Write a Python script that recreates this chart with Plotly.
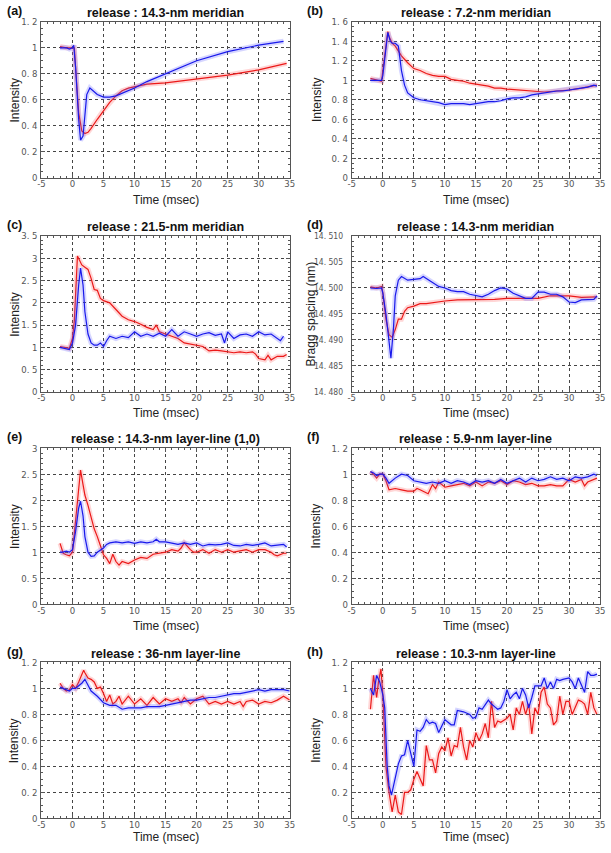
import plotly.graph_objects as go

# ---------------- data ----------------
A_RED_T = [-2, -1, 0, 0.3, 0.5, 1, 1.5, 2, 2.5, 3, 4, 5, 6, 7, 8, 9, 10, 12, 15, 20, 25, 30, 34.5]
A_RED = [1.01, 1.0, 1.0, 1.0, 0.85, 0.5, 0.36, 0.34, 0.35, 0.38, 0.45, 0.52, 0.58, 0.63, 0.67, 0.69, 0.70, 0.72, 0.73, 0.76, 0.79, 0.83, 0.88]
A_BLUE_T = [-2, -1, -0.5, 0, 0.2, 0.5, 1, 1.3, 1.7, 2, 2.3, 2.8, 3.3, 4, 5, 6, 7, 8, 10, 12, 15, 20, 25, 30, 34]
A_BLUE = [1.0, 1.0, 0.99, 1.0, 1.02, 0.85, 0.45, 0.29, 0.32, 0.5, 0.64, 0.69, 0.67, 0.64, 0.62, 0.62, 0.63, 0.65, 0.69, 0.74, 0.80, 0.90, 0.97, 1.02, 1.05]

B_RED_T = [-2, -1, -0.2, 0, 0.5, 0.8, 1, 1.5, 2, 2.5, 3, 4, 5, 6, 7, 8, 9, 10, 11, 12, 13, 14, 15, 16, 17, 18, 19, 20, 22, 24, 26, 28, 30, 32, 33, 34.5]
B_RED = [1.02, 1.0, 0.99, 1.1, 1.35, 1.50, 1.45, 1.38, 1.35, 1.30, 1.25, 1.18, 1.12, 1.10, 1.07, 1.05, 1.04, 1.04, 1.01, 1.0, 0.99, 0.97, 0.96, 0.95, 0.94, 0.92, 0.92, 0.91, 0.90, 0.89, 0.88, 0.89, 0.90, 0.92, 0.93, 0.95]
B_BLUE_T = [-2, -1, -0.2, 0, 0.5, 0.8, 1.2, 1.5, 2, 2.5, 3, 3.5, 4, 5, 6, 7, 8, 9, 10, 11, 12, 13, 14, 15, 16, 17, 18, 19, 20, 21, 22, 23, 24, 25, 26, 27, 28, 29, 30, 31, 32, 33, 34, 34.5]
B_BLUE = [1.0, 1.0, 1.0, 1.05, 1.35, 1.49, 1.40, 1.38, 1.38, 1.35, 1.10, 0.95, 0.87, 0.82, 0.80, 0.79, 0.78, 0.77, 0.75, 0.76, 0.76, 0.76, 0.75, 0.76, 0.77, 0.78, 0.78, 0.79, 0.81, 0.82, 0.82, 0.83, 0.85, 0.86, 0.87, 0.88, 0.89, 0.89, 0.90, 0.91, 0.92, 0.93, 0.95, 0.94]

C_RED_T = [-2, -1, -0.5, 0, 0.3, 0.8, 1.2, 1.5, 2, 2.5, 3, 3.5, 4, 4.5, 5, 6, 7, 8, 9, 10, 11, 12, 13, 13.5, 14, 15, 16, 17, 18, 19, 20, 21, 22, 23, 24, 25, 26, 27, 28, 29, 29.5, 30, 31, 31.5, 32, 33, 34, 34.5]
C_RED = [1.02, 1.0, 0.98, 1.2, 1.6, 3.05, 2.95, 2.85, 2.8, 2.75, 2.55, 2.3, 2.28, 2.1, 2.05, 2.0, 1.85, 1.7, 1.62, 1.58, 1.52, 1.45, 1.4, 1.5, 1.35, 1.3, 1.25, 1.2, 1.1, 1.07, 1.05, 1.02, 0.92, 0.94, 0.92, 0.9, 0.88, 0.9, 0.88, 0.9, 0.85, 0.75, 0.72, 0.82, 0.72, 0.8, 0.8, 0.84]
C_BLUE_T = [-2, -1, -0.5, 0, 0.5, 1, 1.3, 1.7, 2, 2.5, 3, 3.5, 4, 4.5, 5, 5.5, 6, 7, 8, 9, 10, 11, 12, 13, 14, 15, 16, 17, 18, 19, 20, 21, 22, 23, 24, 24.5, 25, 26, 27, 28, 29, 30, 31, 32, 33, 33.5, 34]
C_BLUE = [1.0, 0.97, 0.95, 1.1, 1.5, 2.4, 2.78, 2.4, 1.8, 1.3, 1.1, 1.05, 1.05, 1.1, 1.02, 1.15, 1.25, 1.2, 1.25, 1.22, 1.35, 1.25, 1.3, 1.25, 1.32, 1.25, 1.4, 1.25, 1.35, 1.3, 1.25, 1.3, 1.33, 1.27, 1.3, 1.1, 1.35, 1.2, 1.28, 1.3, 1.25, 1.35, 1.28, 1.3, 1.2, 1.15, 1.25]

D_RED_T = [-2, -1, -0.2, 0, 0.5, 1, 1.5, 2, 2.5, 3, 3.5, 4, 5, 6, 7, 8, 10, 12, 15, 18, 20, 23, 25, 27, 30, 32, 34.5]
D_RED = [14.5002, 14.5000, 14.5003, 14.4990, 14.4940, 14.4910, 14.4905, 14.4920, 14.4940, 14.4940, 14.4955, 14.4962, 14.4965, 14.4970, 14.4970, 14.4972, 14.4975, 14.4977, 14.4977, 14.4978, 14.4980, 14.4980, 14.4980, 14.4985, 14.4985, 14.4982, 14.4983]
D_BLUE_T = [-2, -1, -0.2, 0, 0.5, 1, 1.3, 1.7, 2, 2.5, 3, 4, 5, 6, 6.5, 7, 8, 9, 10, 11, 12, 13, 14, 15, 16, 17, 18, 19, 20, 21, 22, 23, 24, 25, 26, 27, 28, 29, 30, 31, 32, 33, 34, 34.5]
D_BLUE = [14.5000, 14.4999, 14.5000, 14.4990, 14.4950, 14.4900, 14.4865, 14.4920, 14.4985, 14.5015, 14.5022, 14.5015, 14.5017, 14.5018, 14.5022, 14.5018, 14.5010, 14.5003, 14.5000, 14.4995, 14.4993, 14.4993, 14.4988, 14.4985, 14.4983, 14.4988, 14.4995, 14.5000, 14.4998, 14.4990, 14.4985, 14.4980, 14.4980, 14.4992, 14.4992, 14.4988, 14.4988, 14.4983, 14.4973, 14.4972, 14.4977, 14.4977, 14.4978, 14.4985]

E_RED_T = [-2, -1.5, -1, -0.5, 0, 0.5, 1, 1.3, 1.7, 2, 2.5, 3, 3.5, 4, 4.5, 5, 5.5, 6, 6.5, 7, 7.5, 8, 9, 10, 11, 12, 13, 14, 15, 16, 17, 17.5, 18, 19, 19.5, 20, 21, 22, 23, 24, 25, 26, 27, 28, 29, 30, 31, 32, 32.5, 33, 34, 34.5]
E_RED = [1.17, 0.98, 0.95, 0.93, 1.0, 1.6, 2.2, 2.58, 2.3, 2.1, 1.9, 1.65, 1.45, 1.3, 1.1, 0.95, 0.88, 0.78, 0.96, 0.82, 0.75, 0.82, 0.78, 0.85, 0.9, 0.88, 0.96, 0.98, 1.0, 1.05, 1.02, 1.08, 1.18, 1.05, 1.0, 1.0, 1.05, 0.98, 1.05, 1.0, 1.05, 1.0, 1.02, 1.05, 1.0, 1.05, 1.05, 1.0, 0.95, 0.93, 0.98, 0.98]
E_BLUE_T = [-2, -1.5, -1, -0.5, 0, 0.5, 1, 1.3, 1.7, 2, 2.5, 3, 3.5, 4, 5, 5.5, 6, 7, 8, 9, 10, 11, 12, 13, 13.5, 14, 15, 16, 17, 18, 19, 20, 21, 22, 23, 24, 25, 26, 27, 28, 29, 30, 31, 32, 33, 34, 34.5]
E_BLUE = [1.0, 1.0, 1.02, 1.0, 1.05, 1.4, 1.85, 1.98, 1.7, 1.3, 1.0, 0.92, 0.93, 1.0, 1.08, 1.15, 1.18, 1.2, 1.18, 1.2, 1.17, 1.2, 1.18, 1.2, 1.25, 1.2, 1.2, 1.18, 1.15, 1.18, 1.15, 1.18, 1.12, 1.15, 1.14, 1.15, 1.18, 1.13, 1.12, 1.15, 1.13, 1.15, 1.18, 1.12, 1.13, 1.15, 1.1]

F_RED_T = [-2, -1.5, -1, -0.5, 0, 0.5, 1, 2, 3, 4, 5, 5.5, 6, 7, 7.3, 8, 8.5, 9, 10, 11, 12, 13, 14, 15, 16, 17, 18, 19, 20, 21, 22, 23, 24, 25, 26, 27, 28, 29, 30, 31, 32, 32.5, 33, 34, 34.5]
F_RED = [1.02, 1.0, 0.97, 1.0, 1.0, 0.95, 0.88, 0.89, 0.88, 0.87, 0.87, 0.89, 0.88, 0.86, 0.85, 0.92, 0.89, 0.94, 0.9, 0.91, 0.92, 0.93, 0.91, 0.94, 0.91, 0.94, 0.93, 0.95, 0.92, 0.95, 0.94, 0.92, 0.93, 0.91, 0.91, 0.92, 0.91, 0.91, 0.96, 0.94, 0.96, 0.91, 0.94, 0.96, 0.97]
F_BLUE_T = [-2, -1.5, -1, -0.5, 0, 0.5, 1, 2, 3, 4, 5, 6, 7, 8, 9, 10, 11, 12, 13, 14, 15, 16, 17, 18, 19, 20, 21, 22, 23, 24, 25, 26, 27, 28, 29, 30, 31, 32, 33, 34, 34.5]
F_BLUE = [1.02, 1.01, 0.99, 1.0, 1.0, 0.97, 0.93, 0.97, 1.0, 0.99, 0.95, 0.94, 0.93, 0.94, 0.93, 0.95, 0.93, 0.95, 0.94, 0.92, 0.95, 0.94, 0.95, 0.93, 0.96, 0.93, 0.95, 0.97, 0.94, 0.97, 0.95, 0.96, 0.98, 0.96, 0.97, 0.95, 0.98, 0.97, 0.98, 1.0, 0.99]

G_RED_T = [-2, -1.5, -1, -0.5, 0, 0.5, 1, 1.5, 1.8, 2, 2.5, 3, 3.5, 4, 4.5, 5, 5.5, 6, 6.5, 7, 7.5, 8, 9, 10, 11, 12, 13, 14, 15, 16, 17, 17.5, 18, 19, 20, 21, 22, 23, 24, 25, 26, 27, 27.5, 28, 29, 30, 31, 32, 33, 34, 35]
G_RED = [1.04, 1.0, 0.98, 0.99, 1.03, 1.0, 1.05, 1.1, 1.14, 1.12, 1.08, 1.07, 1.05, 1.0, 1.01, 0.96, 0.9, 0.95, 0.88, 0.9, 0.94, 0.88, 0.94, 0.88, 0.92, 0.87, 0.93, 0.88, 0.92, 0.9, 0.92, 0.89, 0.93, 0.88, 0.92, 0.94, 0.88, 0.9, 0.88, 0.9, 0.88, 0.9, 0.86, 0.9, 0.91, 0.88, 0.9, 0.89, 0.91, 0.94, 0.91]
G_BLUE_T = [-2, -1.5, -1, -0.5, 0, 0.5, 1, 1.5, 2, 2.5, 3, 4, 5, 6, 7, 8, 9, 10, 11, 12, 13, 14, 15, 16, 17, 18, 19, 20, 21, 22, 23, 24, 25, 26, 27, 28, 29, 30, 31, 32, 33, 34, 35]
G_BLUE = [1.01, 1.0, 0.99, 0.98, 1.0, 1.0, 1.02, 1.04, 1.07, 1.02, 0.98, 0.94, 0.89, 0.87, 0.87, 0.84, 0.85, 0.85, 0.85, 0.86, 0.86, 0.86, 0.87, 0.88, 0.89, 0.9, 0.91, 0.91, 0.92, 0.93, 0.93, 0.94, 0.95, 0.96, 0.96, 0.97, 0.98, 0.99, 0.98, 0.99, 0.99, 0.99, 0.98]

H_RED_T = [-2, -1.5, -1, -0.7, -0.3, 0, 0.5, 1, 1.5, 2, 2.5, 3, 3.5, 4, 4.5, 5, 5.5, 6, 6.5, 7, 7.5, 8, 8.5, 9, 9.5, 10, 10.5, 11, 11.5, 12, 12.5, 13, 13.5, 14, 14.5, 15, 15.5, 16, 16.5, 17, 17.5, 18, 18.5, 19, 20, 20.5, 21, 21.5, 22, 22.5, 23, 23.5, 24, 24.5, 25, 25.5, 26, 26.5, 27, 27.5, 28, 28.5, 29, 29.5, 30, 30.5, 31, 31.5, 32, 32.5, 33, 33.5, 34, 34.5]
H_RED = [0.84, 1.1, 0.93, 1.05, 1.15, 0.95, 0.4, 0.2, 0.05, 0.18, 0.05, 0.03, 0.2, 0.2, 0.22, 0.3, 0.36, 0.3, 0.25, 0.56, 0.45, 0.45, 0.35, 0.5, 0.55, 0.52, 0.62, 0.48, 0.56, 0.55, 0.7, 0.55, 0.45, 0.6, 0.55, 0.66, 0.6, 0.65, 0.73, 0.62, 0.9, 0.7, 0.75, 0.74, 0.77, 0.8, 0.68, 0.85, 0.8, 0.9, 0.8, 0.88, 0.65, 0.85, 0.8, 0.97, 1.01, 0.88, 0.85, 0.72, 0.75, 0.94, 0.8, 0.9, 0.9, 0.8, 0.85, 0.91, 0.9, 0.88, 0.8, 0.97, 0.85, 0.8]
H_BLUE_T = [-2, -1.5, -1, -0.5, 0, 0.3, 0.7, 1, 1.4, 2, 2.5, 3, 3.5, 4, 4.5, 5, 5.5, 6, 6.5, 7, 7.5, 8, 8.5, 9, 9.5, 10, 10.5, 11, 11.5, 12, 13, 14, 14.5, 15, 15.5, 16, 17, 17.5, 18, 18.5, 19, 19.5, 20, 20.5, 21, 21.5, 22, 22.5, 23, 23.5, 24, 24.5, 25, 25.5, 26, 26.5, 27, 27.5, 28, 28.5, 29, 30, 30.5, 31, 31.5, 32, 32.5, 33, 33.5, 34, 34.5]
H_BLUE = [1.0, 0.95, 1.1, 1.05, 0.95, 0.85, 0.4, 0.25, 0.18, 0.3, 0.42, 0.48, 0.49, 0.6, 0.5, 0.4, 0.68, 0.67, 0.7, 0.76, 0.73, 0.74, 0.73, 0.66, 0.71, 0.76, 0.74, 0.72, 0.72, 0.83, 0.82, 0.8, 0.77, 0.78, 0.85, 0.84, 0.91, 0.88, 0.86, 0.84, 0.85, 0.9, 0.99, 0.92, 0.95, 0.97, 0.92, 1.0, 0.95, 0.85, 0.93, 1.02, 1.02, 1.02, 1.08, 1.0, 1.05, 1.0, 1.07, 1.06, 1.07, 1.08, 1.05, 1.0, 1.08, 1.03, 0.97, 1.13, 1.1, 1.1, 1.11]

X_TICKS = [-5, 0, 5, 10, 15, 20, 25, 30, 35]
Y12_TICKS = [0, 0.2, 0.4, 0.6, 0.8, 1.0, 1.2]
Y12_TEXT = ["0", "0. 2", "0. 4", "0. 6", "0. 8", "1", "1. 2"]
Y16_TICKS = [0, 0.2, 0.4, 0.6, 0.8, 1.0, 1.2, 1.4, 1.6]
Y16_TEXT = ["0", "0. 2", "0. 4", "0. 6", "0. 8", "1", "1. 2", "1. 4", "1. 6"]
Y35_TICKS = [0, 0.5, 1, 1.5, 2, 2.5, 3, 3.5]
Y35_TEXT = ["0", "0. 5", "1", "1. 5", "2", "2. 5", "3", "3. 5"]
Y30_TICKS = [0, 0.5, 1, 1.5, 2, 2.5, 3]
Y30_TEXT = ["0", "0. 5", "1", "1. 5", "2", "2. 5", "3"]
YD_TICKS = [14.480, 14.485, 14.490, 14.495, 14.500, 14.505, 14.510]
YD_TEXT = ["14. 480", "14. 485", "14. 490", "14. 495", "14. 500", "14. 505", "14. 510"]

TITLES = ["release : 14.3-nm meridian", "release : 7.2-nm meridian",
          "release : 21.5-nm meridian", "release : 14.3-nm meridian",
          "release : 14.3-nm layer-line (1,0)", "release : 5.9-nm layer-line",
          "release : 36-nm layer-line", "release : 10.3-nm layer-line"]
LABELS = ["(a)", "(b)", "(c)", "(d)", "(e)", "(f)", "(g)", "(h)"]
YTITLES = ["Intensity", "Intensity", "Intensity", "Bragg spacing (nm)",
           "Intensity", "Intensity", "Intensity", "Intensity"]

panels = [
    (A_RED_T, A_RED, A_BLUE_T, A_BLUE, [0, 1.2], Y12_TICKS, Y12_TEXT, 0.05),
    (B_RED_T, B_RED, B_BLUE_T, B_BLUE, [0, 1.6], Y16_TICKS, Y16_TEXT, 0.05),
    (C_RED_T, C_RED, C_BLUE_T, C_BLUE, [0, 3.5], Y35_TICKS, Y35_TEXT, 0.1),
    (D_RED_T, D_RED, D_BLUE_T, D_BLUE, [14.480, 14.510], YD_TICKS, YD_TEXT, 0.001),
    (E_RED_T, E_RED, E_BLUE_T, E_BLUE, [0, 3], Y30_TICKS, Y30_TEXT, 0.1),
    (F_RED_T, F_RED, F_BLUE_T, F_BLUE, [0, 1.2], Y12_TICKS, Y12_TEXT, 0.05),
    (G_RED_T, G_RED, G_BLUE_T, G_BLUE, [0, 1.2], Y12_TICKS, Y12_TEXT, 0.05),
    (H_RED_T, H_RED, H_BLUE_T, H_BLUE, [0, 1.2], Y12_TICKS, Y12_TEXT, 0.05),
]

W, H = 611, 853
# plot-area pixel boxes (left, right, top, bottom)
cols = [(38, 290), (353, 605)]
rows = [(16, 174), (233, 391), (448, 606), (665, 823)]
xtitle_off = [23, 21, 22, 18.5]
ytitle_x = [11, 12, 11, 7, 11, 12, 11, 12]

fig = go.Figure()
FONT = "Liberation Sans, Arial, sans-serif"
TICKFONT = "Liberation Sans Narrow, Arial Narrow, DejaVu Sans Condensed, Liberation Sans, Arial, sans-serif"
RED = "rgb(235,25,25)"
BLUE = "rgb(25,25,235)"
annotations = []

for i, (rt, rv, bt, bv, yr, yt, ytt, ymin) in enumerate(panels):
    r, c = divmod(i, 2)
    l, rr = cols[c]
    t, b = rows[r]
    xa = "x" if i == 0 else f"x{i+1}"
    ya = "y" if i == 0 else f"y{i+1}"
    for tt, vv, halo, col in [(rt, rv, "rgba(255,90,90,0.25)", RED),
                              (bt, bv, "rgba(90,90,255,0.25)", BLUE)]:
        fig.add_trace(go.Scatter(x=tt, y=vv, mode="lines", xaxis=xa, yaxis=ya,
                                 line=dict(color=halo, width=5), hoverinfo="skip",
                                 showlegend=False))
        fig.add_trace(go.Scatter(x=tt, y=vv, mode="lines", xaxis=xa, yaxis=ya,
                                 line=dict(color=col, width=1.2), showlegend=False))
    axcommon = dict(showline=True, mirror="allticks", linecolor="#555", linewidth=1,
                    ticks="inside", ticklen=4, tickcolor="#555",
                    showgrid=True, gridcolor="#444", griddash="dot", gridwidth=1,
                    zeroline=False)
    xkey = "xaxis" if i == 0 else f"xaxis{i+1}"
    ykey = "yaxis" if i == 0 else f"yaxis{i+1}"
    fig.update_layout(**{
        xkey: dict(domain=[l / W, rr / W], anchor=ya, range=[-5, 35],
                   tickvals=X_TICKS, ticktext=[str(v) for v in X_TICKS],
                   ticklabelstandoff=-3,
                   tickfont=dict(family=TICKFONT, size=9.5, color="#555"),
                   minor=dict(dtick=1, ticks="inside", ticklen=2, tickcolor="#555", showgrid=False),
                   **axcommon),
        ykey: dict(domain=[1 - b / H, 1 - t / H], anchor=xa, range=yr,
                   tickvals=yt, ticktext=ytt,
                   ticklabelstandoff=(6 if i == 3 else 1),
                   tickfont=dict(family=TICKFONT, size=(8.5 if i == 3 else 9.5), color="#555"),
                   minor=dict(dtick=ymin, ticks="inside", ticklen=2, tickcolor="#555", showgrid=False),
                   **axcommon),
    })
    cx = (l + rr) / 2
    annotations.append(dict(x=cx / W, y=1 - (t - 9) / H, xref="paper", yref="paper",
                            text=f"<b>{TITLES[i]}</b>", showarrow=False,
                            font=dict(family=FONT, size=12.5, color="#111"),
                            xanchor="center", yanchor="middle"))
    annotations.append(dict(x=(c * 305 + 1) / W, y=1 - (t - 11) / H, xref="paper", yref="paper",
                            text=f"<b>{LABELS[i]}</b>", showarrow=False,
                            font=dict(family=FONT, size=12.5, color="#111"),
                            xanchor="left", yanchor="middle"))
    annotations.append(dict(x=cx / W, y=1 - (b + xtitle_off[r]) / H, xref="paper", yref="paper",
                            text="Time (msec)", showarrow=False,
                            font=dict(family=FONT, size=12, color="#222"),
                            xanchor="center", yanchor="middle"))
    annotations.append(dict(x=(c * 305 + ytitle_x[i]) / W, y=1 - ((t + b) / 2) / H, xref="paper", yref="paper",
                            text=YTITLES[i], showarrow=False, textangle=-90,
                            font=dict(family=FONT, size=12, color="#222"),
                            xanchor="center", yanchor="middle"))

fig.update_layout(width=W, height=H, margin=dict(l=0, r=0, t=0, b=0),
                  paper_bgcolor="white", plot_bgcolor="white",
                  annotations=annotations, showlegend=False)
fig.write_html("out.html", config={"displayModeBar": False},
               post_script="document.body.style.margin='0px';document.body.style.overflow='hidden';")
